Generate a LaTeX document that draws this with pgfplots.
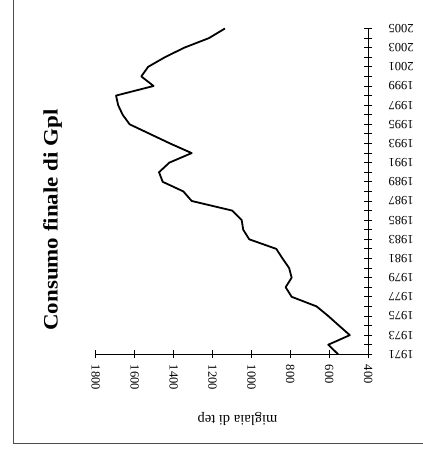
\documentclass[border=0pt]{standalone}
\usepackage{fontspec}
\setmainfont{Liberation Serif}
\usepackage{pgfplots}
\pgfplotsset{compat=1.18}
\pgfplotstableread{
value year
554 1971
605 1972
494 1973
550 1974
605 1975
665 1976
793 1977
824 1978
793 1979
806 1980
840 1981
872 1982
1011 1983
1042 1984
1050 1985
1099 1986
1307 1987
1350 1988
1456 1989
1475 1990
1422 1991
1307 1992
1418 1993
1522 1994
1626 1995
1662 1996
1685 1997
1696 1998
1503 1999
1566 2000
1531 2001
1445 2002
1345 2003
1218 2004
1136 2005
}\gpl
\begin{document}
\begin{tikzpicture}[x=1pt,y=1pt]
\path[use as bounding box] (0,0) rectangle (423,450);
\draw[gray!60!black, line width=0.8pt] (13,450) -- (13,7) -- (423,7);
\begin{axis}[
  at={(95.8pt,95.7pt)}, anchor=south west,
  width=272.3pt, height=325.8pt, scale only axis,
  x dir=reverse,
  xmin=400, xmax=1800, ymin=1971, ymax=2005,
  separate axis lines,
  axis x line*=bottom, axis y line*=right,
  axis line style={line width=1.1pt},
  xtick={400,600,...,1800},
  ytick={1971,1973,...,2005},
  minor ytick={1972,1974,...,2004},
  tick align=center,
  major tick length=8pt, minor tick length=8pt,
  every tick/.style={black, line width=0.9pt},
  /pgf/number format/assume math mode=true,
  /pgf/number format/1000 sep={},
  ticklabel style={font=\fontsize{12.5}{14}\selectfont},
  xticklabel style={rotate=-90, anchor=west, xshift=3pt},
  yticklabel style={rotate=180, anchor=east, xshift=-13pt},
  clip=false,
]
\addplot[black, line width=1.8pt, line join=round] table[x=value, y=year] {\gpl};
\end{axis}
\node[rotate=180, font=\fontsize{14.5}{17}\selectfont] at (237.5,31) {miglaia di tep};
\node[rotate=90, xscale=1.12, font=\fontsize{20.5}{24}\selectfont\bfseries] at (52.5,230) {Consumo finale di Gpl};
\end{tikzpicture}
\end{document}
